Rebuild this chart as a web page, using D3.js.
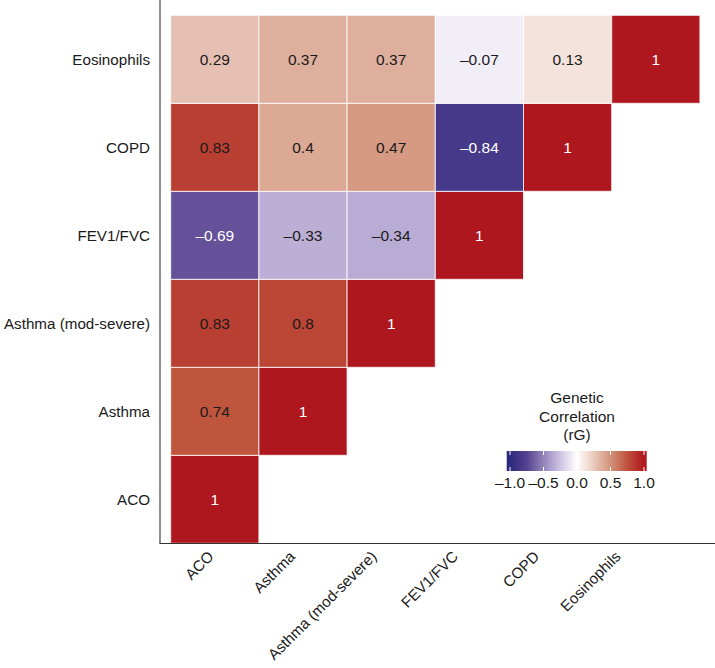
<!DOCTYPE html>
<html>
<head>
<meta charset="utf-8">
<script src="https://cdn.jsdelivr.net/npm/d3@7"></script>
<style>
  html, body { margin: 0; padding: 0; background: #fff; }
  text { font-family: "Liberation Sans", Arial, Helvetica, sans-serif; }
</style>
</head>
<body>
<svg id="chart" width="715" height="668"></svg>
<script>
// ---- data ----
const traits = ["ACO", "Asthma", "Asthma (mod-severe)", "FEV1/FVC", "COPD", "Eosinophils"];
// rows (y) listed bottom to top, values follow columns ACO..Eosinophils (lower triangle)
const rowACO         = [1];
const rowAsthma      = [0.74, 1];
const rowAsthmaMS    = [0.83, 0.8, 1];
const rowFEV1FVC     = [-0.69, -0.33, -0.34, 1];
const rowCOPD        = [0.83, 0.4, 0.47, -0.84, 1];
const rowEosinophils = [0.29, 0.37, 0.37, -0.07, 0.13, 1];
const legendTicks = [-1.0, -0.5, 0.0, 0.5, 1.0];
const legendTitle = ["Genetic", "Correlation", "(rG)"];
// colour ramp stops (value -> colour)
const rampDomain = [-1, -0.75, -0.5, -0.25, 0, 0.5, 0.75, 1];
const rampColors = ["#2d2a7e", "#55418f", "#9384bb", "#cfc3e2", "#ffffff", "#d3937a", "#bf523c", "#af171f"];

const rows = [rowACO, rowAsthma, rowAsthmaMS, rowFEV1FVC, rowCOPD, rowEosinophils];
const cells = [];
rows.forEach((vals, ri) => vals.forEach((v, ci) => cells.push({row: traits[ri], col: traits[ci], v})));

// ---- layout ----
const svg = d3.select("#chart");
const x = d3.scaleBand().domain(traits).range([170.7, 699.9]).padding(0);
const y = d3.scaleBand().domain(traits.slice().reverse()).range([15.3, 543.3]).padding(0);
// x tick-label anchors (labels in the reference are spaced slightly tighter than the cells)
const xLab = d3.scalePoint().domain(traits).range([214.7, 621.7]);

const color = d3.scaleLinear().domain(rampDomain).range(rampColors).interpolate(d3.interpolateRgb).clamp(true);

const fmt = v => (v < 0 ? "\u2013" : "") + String(Math.abs(v));

// cells
svg.append("g").selectAll("rect").data(cells).join("rect")
  .attr("x", d => x(d.col)).attr("y", d => y(d.row))
  .attr("width", x.bandwidth()).attr("height", y.bandwidth())
  .attr("fill", d => color(d.v))
  .attr("stroke", "#ffffff").attr("stroke-opacity", 0.8).attr("stroke-width", 1);

svg.append("g").selectAll("text").data(cells).join("text")
  .attr("x", d => x(d.col) + x.bandwidth() / 2)
  .attr("y", d => y(d.row) + y.bandwidth() / 2)
  .attr("dy", "0.36em")
  .attr("text-anchor", "middle")
  .attr("font-size", 15.5)
  .attr("fill", d => (d.v >= 0.95 || d.v < -0.5) ? "#ffffff" : "#1a1a1a")
  .text(d => fmt(d.v));

// axis lines
svg.append("line").attr("x1", 160).attr("x2", 160).attr("y1", 0).attr("y2", 543.8)
  .attr("stroke", "#333").attr("stroke-width", 1.1);
svg.append("line").attr("x1", 159.5).attr("x2", 715).attr("y1", 543.5).attr("y2", 543.5)
  .attr("stroke", "#333").attr("stroke-width", 1.1);

// y labels
svg.append("g").selectAll("text").data(traits).join("text")
  .attr("x", 150).attr("y", d => y(d) + y.bandwidth() / 2)
  .attr("dy", "0.36em").attr("text-anchor", "end")
  .attr("font-size", 15.2).attr("fill", "#1a1a1a")
  .text(d => d);

// x labels
svg.append("g").selectAll("text").data(traits).join("text")
  .attr("transform", d => `translate(${xLab(d)},${557.5}) rotate(-45)`)
  .attr("text-anchor", "end")
  .attr("font-size", 15.2).attr("fill", "#1a1a1a")
  .text(d => d);

// legend
const lx = d3.scaleLinear().domain([-1, 1]).range([510, 644]);
const barX0 = 506.7, barX1 = 646.7, barY0 = 451, barY1 = 471;
const defs = svg.append("defs");
const grad = defs.append("linearGradient").attr("id", "lg")
  .attr("x1", "0%").attr("x2", "100%").attr("y1", "0%").attr("y2", "0%");
d3.range(0, 1.0001, 0.025).forEach(t => {
  const v = lx.invert(barX0 + t * (barX1 - barX0));
  grad.append("stop").attr("offset", (t * 100) + "%").attr("stop-color", color(v));
});
svg.append("rect").attr("x", barX0).attr("y", barY0).attr("width", barX1 - barX0).attr("height", barY1 - barY0)
  .attr("fill", "url(#lg)");
const tk = svg.append("g");
legendTicks.forEach(t => {
  tk.append("line").attr("x1", lx(t)).attr("x2", lx(t)).attr("y1", barY0).attr("y2", barY0 + 4)
    .attr("stroke", "#fff").attr("stroke-width", 1);
  tk.append("line").attr("x1", lx(t)).attr("x2", lx(t)).attr("y1", barY1 - 4).attr("y2", barY1)
    .attr("stroke", "#fff").attr("stroke-width", 1);
  tk.append("text").attr("x", lx(t)).attr("y", 488).attr("text-anchor", "middle")
    .attr("font-size", 15.5).attr("fill", "#1a1a1a")
    .text((t < 0 ? "\u2013" : "") + Math.abs(t).toFixed(1));
});
svg.append("g").selectAll("text").data(legendTitle).join("text")
  .attr("x", 577).attr("y", (d, i) => 403 + i * 18.5)
  .attr("text-anchor", "middle").attr("font-size", 15.5).attr("fill", "#1a1a1a")
  .text(d => d);
</script>
</body>
</html>
